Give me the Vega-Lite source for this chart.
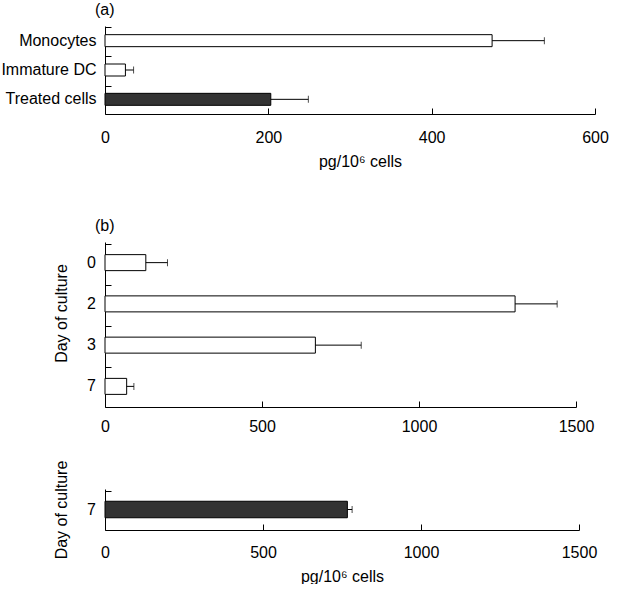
{
  "$schema": "https://vega.github.io/schema/vega-lite/v6.json",
  "padding": {"left": 0, "top": 2, "right": 5, "bottom": 0},
  "spacing": 26,
  "config": {
    "view": {"stroke": null},
    "font": "Liberation Sans",
    "axis": {"grid": false, "domainColor": "#000", "tickColor": "#000", "labelColor": "#000", "titleColor": "#000", "labelFontSize": 16, "titleFontSize": 16, "titleFontWeight": "normal", "labelFont": "Liberation Sans", "titleFont": "Liberation Sans", "domainWidth": 1, "tickWidth": 1, "tickSize": -6, "labelFlush": false},
    "title": {"fontSize": 16, "fontWeight": "normal", "anchor": "start", "frame": "group", "color": "#000", "font": "Liberation Sans"}
  },
  "datasets": {
    "a": [
      {"cell": "Monocytes", "value": 474, "err": 538, "group": "untreated"},
      {"cell": "Immature DC", "value": 25, "err": 35, "group": "untreated"},
      {"cell": "Treated cells", "value": 203, "err": 249, "group": "treated"}
    ],
    "b": [
      {"day": "0", "value": 130, "err": 199, "group": "untreated"},
      {"day": "2", "value": 1306, "err": 1440, "group": "untreated"},
      {"day": "3", "value": 670, "err": 816, "group": "untreated"},
      {"day": "7", "value": 69, "err": 92, "group": "untreated"}
    ],
    "c": [
      {"day": "7", "value": 767, "err": 782, "group": "treated"}
    ]
  },
  "vconcat": [
    {
      "title": {"text": "(a)", "dx": -10, "offset": 8},
      "width": 490,
      "height": 88,
      "data": {"name": "a"},
      "encoding": {
        "y": {"field": "cell", "type": "nominal", "sort": null, "axis": {"title": null, "bandPosition": 0, "labelPadding": 15}}
      },
      "layer": [
        {
          "mark": {"type": "bar", "size": 12, "stroke": "#000", "strokeWidth": 1},
          "encoding": {
            "x": {"field": "value", "type": "quantitative", "scale": {"domain": [0, 600], "nice": false},
              "axis": {"values": [0, 200, 400, 600], "format": "d", "labelPadding": 21, "title": ["pg/10⁶ cells", ""], "titleLineHeight": 23, "titlePadding": 8, "titleX": 255}},
            "color": {"field": "group", "type": "nominal", "scale": {"domain": ["untreated", "treated"], "range": ["#ffffff", "#333333"]}, "legend": null}
          }
        },
        {
          "mark": {"type": "rule", "color": "#000", "strokeWidth": 1},
          "encoding": {"x": {"field": "value", "type": "quantitative"}, "x2": {"field": "err"}}
        },
        {
          "mark": {"type": "tick", "orient": "vertical", "size": 7, "thickness": 1, "color": "#000"},
          "encoding": {"x": {"field": "err", "type": "quantitative"}}
        }
      ]
    },
    {
      "title": {"text": "(b)", "dx": -10, "offset": 8},
      "width": 471,
      "height": 165,
      "data": {"name": "b"},
      "encoding": {
        "y": {"field": "day", "type": "nominal", "sort": null, "axis": {"title": "Day of culture", "bandPosition": 0, "labelPadding": 15.5, "titlePadding": 17, "titleY": 71}}
      },
      "layer": [
        {
          "mark": {"type": "bar", "size": 16, "stroke": "#000", "strokeWidth": 1},
          "encoding": {
            "x": {"field": "value", "type": "quantitative", "scale": {"domain": [0, 1500], "nice": false},
              "axis": {"values": [0, 500, 1000, 1500], "format": "d", "labelPadding": 17, "title": null}},
            "color": {"field": "group", "type": "nominal", "scale": {"domain": ["untreated", "treated"], "range": ["#ffffff", "#333333"]}, "legend": null}
          }
        },
        {
          "mark": {"type": "rule", "color": "#000", "strokeWidth": 1},
          "encoding": {"x": {"field": "value", "type": "quantitative"}, "x2": {"field": "err"}}
        },
        {
          "mark": {"type": "tick", "orient": "vertical", "size": 7, "thickness": 1, "color": "#000"},
          "encoding": {"x": {"field": "err", "type": "quantitative"}}
        }
      ]
    },
    {
      "width": 474,
      "height": 41,
      "data": {"name": "c"},
      "encoding": {
        "y": {"field": "day", "type": "nominal", "sort": null, "axis": {"title": "Day of culture", "bandPosition": 0, "labelPadding": 15.5, "titlePadding": 17}}
      },
      "layer": [
        {
          "mark": {"type": "bar", "size": 16.5, "stroke": "#000", "strokeWidth": 1},
          "encoding": {
            "x": {"field": "value", "type": "quantitative", "scale": {"domain": [0, 1500], "nice": false},
              "axis": {"values": [0, 500, 1000, 1500], "format": "d", "labelPadding": 20, "title": "pg/10⁶ cells", "titlePadding": 8}},
            "color": {"field": "group", "type": "nominal", "scale": {"domain": ["untreated", "treated"], "range": ["#ffffff", "#333333"]}, "legend": null}
          }
        },
        {
          "mark": {"type": "rule", "color": "#000", "strokeWidth": 1},
          "encoding": {"x": {"field": "value", "type": "quantitative"}, "x2": {"field": "err"}}
        },
        {
          "mark": {"type": "tick", "orient": "vertical", "size": 7, "thickness": 1, "color": "#000"},
          "encoding": {"x": {"field": "err", "type": "quantitative"}}
        }
      ]
    }
  ]
}
